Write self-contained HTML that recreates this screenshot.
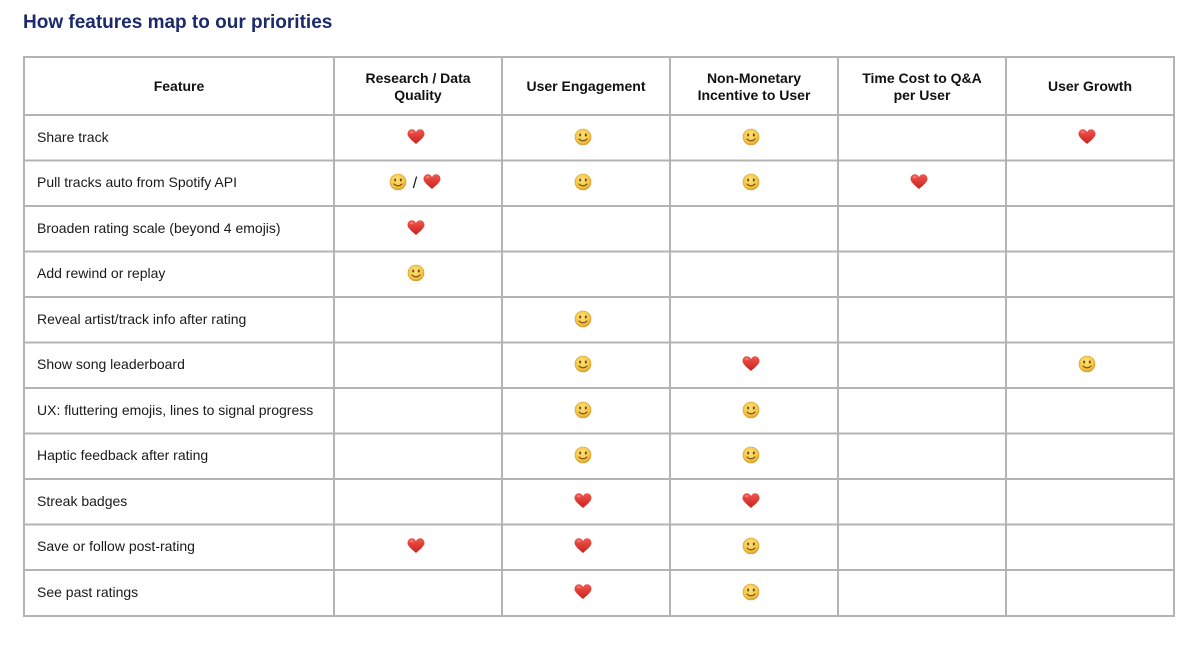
<!DOCTYPE html>
<html>
<head>
<meta charset="utf-8">
<style>
  html,body{margin:0;padding:0;background:#fff;}
  body{width:1195px;height:657px;overflow:hidden;}
  svg text{font-family:"Liberation Sans",Arial,sans-serif;}
</style>
</head>
<body>
<svg width="1195" height="657" viewBox="0 0 1195 657" xmlns="http://www.w3.org/2000/svg">
  <defs>
    <radialGradient id="sg" cx="45%" cy="35%" r="65%">
      <stop offset="0" stop-color="#fde27a"/>
      <stop offset="0.7" stop-color="#f5c542"/>
      <stop offset="1" stop-color="#dea131"/>
    </radialGradient>
    <linearGradient id="hg" x1="0" y1="0" x2="0" y2="1">
      <stop offset="0" stop-color="#f0584f"/>
      <stop offset="1" stop-color="#c9201c"/>
    </linearGradient>
    <g id="smile">
      <circle cx="0" cy="0" r="8" fill="url(#sg)" stroke="#d39a2c" stroke-width="0.6"/>
      <ellipse cx="-2.8" cy="-2" rx="1" ry="1.5" fill="#6b4a1a"/>
      <ellipse cx="2.8" cy="-2" rx="1" ry="1.5" fill="#6b4a1a"/>
      <path d="M-4,2 Q0,5.6 4,2" fill="none" stroke="#6b4a1a" stroke-width="1.1" stroke-linecap="round"/>
    </g>
    <g id="heart">
      <path d="M0,7 C-2,5 -8.5,0.5 -8.5,-3 C-8.5,-6.2 -6.2,-7.8 -4.2,-7.8 C-2.2,-7.8 -0.8,-6.6 0,-5 C0.8,-6.6 2.2,-7.8 4.2,-7.8 C6.2,-7.8 8.5,-6.2 8.5,-3 C8.5,0.5 2,5 0,7 Z" fill="url(#hg)"/>
      <ellipse cx="-4.3" cy="-4.8" rx="1.8" ry="1.1" fill="#ff9a90" opacity="0.6"/>
    </g>
  </defs>

  <text x="23" y="28" font-size="19" font-weight="bold" fill="#1b2a6b">How features map to our priorities</text>

  <!-- grid -->
  <g stroke="#b4b4b4" stroke-width="2" fill="none">
    <rect x="24" y="57" width="1150" height="559"/>
    <line x1="334" y1="57" x2="334" y2="616"/>
    <line x1="502" y1="57" x2="502" y2="616"/>
    <line x1="670" y1="57" x2="670" y2="616"/>
    <line x1="838" y1="57" x2="838" y2="616"/>
    <line x1="1006" y1="57" x2="1006" y2="616"/>
    <line x1="24" y1="115" x2="1174" y2="115"/>
    <line x1="24" y1="160.5" x2="1174" y2="160.5"/>
    <line x1="24" y1="206" x2="1174" y2="206"/>
    <line x1="24" y1="251.5" x2="1174" y2="251.5"/>
    <line x1="24" y1="297" x2="1174" y2="297"/>
    <line x1="24" y1="342.5" x2="1174" y2="342.5"/>
    <line x1="24" y1="388" x2="1174" y2="388"/>
    <line x1="24" y1="433.5" x2="1174" y2="433.5"/>
    <line x1="24" y1="479" x2="1174" y2="479"/>
    <line x1="24" y1="524.5" x2="1174" y2="524.5"/>
    <line x1="24" y1="570" x2="1174" y2="570"/>
  </g>

  <!-- headers -->
  <g font-size="14" font-weight="bold" fill="#111" text-anchor="middle">
    <text x="179" y="91">Feature</text>
    <text x="418" y="83">Research / Data</text>
    <text x="418" y="100">Quality</text>
    <text x="586" y="91">User Engagement</text>
    <text x="754" y="83">Non-Monetary</text>
    <text x="754" y="100">Incentive to User</text>
    <text x="922" y="83">Time Cost to Q&amp;A</text>
    <text x="922" y="100">per User</text>
    <text x="1090" y="91">User Growth</text>
  </g>

  <!-- row labels -->
  <g font-size="14" fill="#1a1a1a">
    <text x="37" y="142">Share track</text>
    <text x="37" y="187">Pull tracks auto from Spotify API</text>
    <text x="37" y="233">Broaden rating scale (beyond 4 emojis)</text>
    <text x="37" y="278">Add rewind or replay</text>
    <text x="37" y="324">Reveal artist/track info after rating</text>
    <text x="37" y="369">Show song leaderboard</text>
    <text x="37" y="415">UX: fluttering emojis, lines to signal progress</text>
    <text x="37" y="460">Haptic feedback after rating</text>
    <text x="37" y="506">Streak badges</text>
    <text x="37" y="551">Save or follow post-rating</text>
    <text x="37" y="597">See past ratings</text>
  </g>

  <!-- emojis -->
  <!-- row 1 y=137 -->
  <use href="#heart" x="416" y="137"/>
  <use href="#smile" x="583" y="137"/>
  <use href="#smile" x="751" y="137"/>
  <use href="#heart" x="1087" y="137"/>
  <!-- row 2 y=182 -->
  <use href="#smile" x="398" y="182"/>
  <text x="415" y="188" font-size="16" fill="#111" text-anchor="middle">/</text>
  <use href="#heart" x="432" y="182"/>
  <use href="#smile" x="583" y="182"/>
  <use href="#smile" x="751" y="182"/>
  <use href="#heart" x="919" y="182"/>
  <!-- row 3 y=228 -->
  <use href="#heart" x="416" y="228"/>
  <!-- row 4 y=273 -->
  <use href="#smile" x="416" y="273"/>
  <!-- row 5 y=319 -->
  <use href="#smile" x="583" y="319"/>
  <!-- row 6 y=364 -->
  <use href="#smile" x="583" y="364"/>
  <use href="#heart" x="751" y="364"/>
  <use href="#smile" x="1087" y="364"/>
  <!-- row 7 y=410 -->
  <use href="#smile" x="583" y="410"/>
  <use href="#smile" x="751" y="410"/>
  <!-- row 8 y=455 -->
  <use href="#smile" x="583" y="455"/>
  <use href="#smile" x="751" y="455"/>
  <!-- row 9 y=501 -->
  <use href="#heart" x="583" y="501"/>
  <use href="#heart" x="751" y="501"/>
  <!-- row 10 y=546 -->
  <use href="#heart" x="416" y="546"/>
  <use href="#heart" x="583" y="546"/>
  <use href="#smile" x="751" y="546"/>
  <!-- row 11 y=592 -->
  <use href="#heart" x="583" y="592"/>
  <use href="#smile" x="751" y="592"/>
</svg>
</body>
</html>
